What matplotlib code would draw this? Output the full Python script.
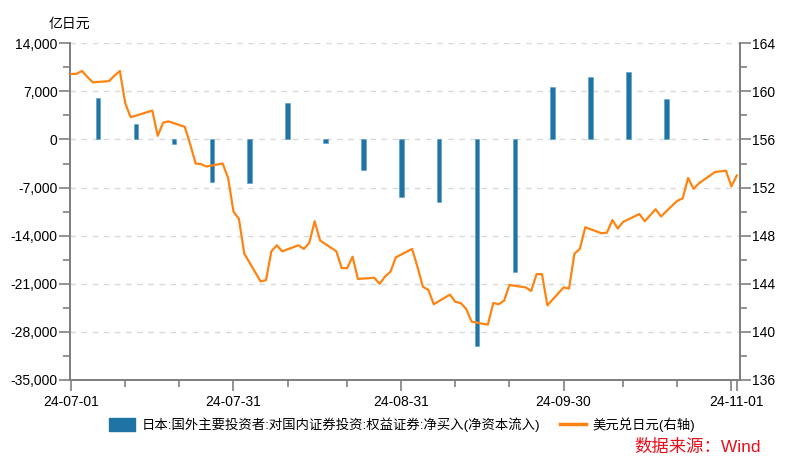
import matplotlib
matplotlib.use("Agg")
import matplotlib.pyplot as plt
from matplotlib.ticker import FuncFormatter, MultipleLocator
from matplotlib.patches import Patch
from matplotlib.lines import Line2D
import pandas as pd

plt.rcParams['font.family'] = ['Liberation Sans', 'Noto Sans CJK SC', 'DejaVu Sans']

# 周度：净买入（亿日元）
bar_dates = ['2024-07-06', '2024-07-13', '2024-07-20', '2024-07-27', '2024-08-03',
             '2024-08-10', '2024-08-17', '2024-08-24', '2024-08-31', '2024-09-07',
             '2024-09-14', '2024-09-21', '2024-09-28', '2024-10-05', '2024-10-12',
             '2024-10-19', '2024-10-26']
net_buy = [6050, 2300, -600, -6200, -6400, 5250, -500, -4400, -8400, -9100,
           -30100, -19300, 7650, 9100, 9800, 5850, 60]

# 日度：美元兑日元
fx_dates = ['2024-07-01', '2024-07-02', '2024-07-03', '2024-07-04', '2024-07-05',
            '2024-07-08', '2024-07-09', '2024-07-10', '2024-07-11', '2024-07-12',
            '2024-07-16', '2024-07-17', '2024-07-18', '2024-07-19', '2024-07-22',
            '2024-07-23', '2024-07-24', '2024-07-25', '2024-07-26', '2024-07-29',
            '2024-07-30', '2024-07-31', '2024-08-01', '2024-08-02', '2024-08-05',
            '2024-08-06', '2024-08-07', '2024-08-08', '2024-08-09', '2024-08-12',
            '2024-08-13', '2024-08-14', '2024-08-15', '2024-08-16', '2024-08-19',
            '2024-08-20', '2024-08-21', '2024-08-22', '2024-08-23', '2024-08-26',
            '2024-08-27', '2024-08-28', '2024-08-29', '2024-08-30', '2024-09-02',
            '2024-09-03', '2024-09-04', '2024-09-05', '2024-09-06', '2024-09-09',
            '2024-09-10', '2024-09-11', '2024-09-12', '2024-09-13', '2024-09-16',
            '2024-09-17', '2024-09-18', '2024-09-19', '2024-09-20', '2024-09-23',
            '2024-09-24', '2024-09-25', '2024-09-26', '2024-09-27', '2024-09-30',
            '2024-10-01', '2024-10-02', '2024-10-03', '2024-10-04', '2024-10-07',
            '2024-10-08', '2024-10-09', '2024-10-10', '2024-10-11', '2024-10-14',
            '2024-10-15', '2024-10-16', '2024-10-17', '2024-10-18', '2024-10-21',
            '2024-10-22', '2024-10-23', '2024-10-24', '2024-10-25', '2024-10-28',
            '2024-10-29', '2024-10-30', '2024-10-31', '2024-11-01']
usdjpy = [161.45, 161.45, 161.7, 161.2, 160.75,
          160.85, 161.3, 161.7, 159.0, 157.85,
          158.4, 156.3, 157.4, 157.5, 157.05,
          155.6, 154.0, 153.95, 153.75, 154.0,
          152.8, 150.0, 149.4, 146.5, 144.2,
          144.3, 146.7, 147.2, 146.7, 147.2,
          146.9, 147.4, 149.2, 147.6, 146.7,
          145.3, 145.3, 146.25, 144.4, 144.5,
          144.0, 144.6, 145.0, 146.2, 146.9,
          145.4, 143.75, 143.5, 142.3, 143.1,
          142.5, 142.4, 141.9, 140.85, 140.6,
          142.4, 142.3, 142.6, 143.9, 143.7,
          143.4, 144.8, 144.8, 142.2, 143.7,
          143.6, 146.5, 146.9, 148.7, 148.2,
          148.25, 149.3, 148.6, 149.15, 149.8,
          149.2, 149.7, 150.2, 149.6, 150.9,
          151.1, 152.8, 151.9, 152.35, 153.3,
          153.35, 153.4, 152.1, 153.0]

major_ticks = ['2024-07-01', '2024-07-31', '2024-08-31', '2024-09-30', '2024-10-31', '2024-11-01']
major_labels = ['24-07-01', '24-07-31', '24-08-31', '24-09-30', '', '24-11-01']
minor_ticks = ['2024-07-11', '2024-07-21', '2024-08-10', '2024-08-21', '2024-09-10',
               '2024-09-20', '2024-10-11', '2024-10-21']

bar_label = '日本:国外主要投资者:对国内证券投资:权益证券:净买入(净资本流入)'
line_label = '美元兑日元(右轴)'

blue = '#1f74a5'
orange = '#fd8412'
axis_grey = '#808080'

fig = plt.figure(figsize=(7.92, 4.70), dpi=100)
ax = fig.add_axes([0.0884, 0.1915, 0.8456, 0.7165])
ax2 = ax.twinx()

bd = pd.to_datetime(bar_dates)
fd = pd.to_datetime(fx_dates)

ax.bar(bd, net_buy, width=0.85, color=blue, edgecolor='#5b9cc5', linewidth=0.4, zorder=3)
ax2.plot(fd, usdjpy, color=orange, linewidth=1.6, zorder=4)

ax.set_ylim(-35000, 14000)
ax.yaxis.set_major_locator(MultipleLocator(7000))
ax.yaxis.set_minor_locator(MultipleLocator(3500))
ax.yaxis.set_major_formatter(FuncFormatter(lambda v, p: f'{v:,.0f}'))
ax2.set_ylim(136, 164)
ax2.yaxis.set_major_locator(MultipleLocator(4))
ax2.yaxis.set_minor_locator(MultipleLocator(2))

ax.set_xlim(pd.Timestamp('2024-07-01') - pd.Timedelta(hours=5),
            pd.Timestamp('2024-11-01') + pd.Timedelta(hours=13))
ax.set_xticks(pd.to_datetime(major_ticks))
ax.set_xticklabels(major_labels)
ax.set_xticks(pd.to_datetime(minor_ticks), minor=True)

ax.grid(axis='y', color='#d9d9d9', linestyle=(0, (4, 4)), linewidth=1, zorder=0)
ax.set_axisbelow(True)

for a in (ax, ax2):
    for s in a.spines.values():
        s.set_color(axis_grey)
        s.set_linewidth(1.4)
    a.spines['top'].set_visible(False)
    a.tick_params(which='major', length=8, width=1.2, color=axis_grey, labelsize=10, pad=1)
    a.tick_params(which='minor', length=5, width=1.2, color=axis_grey)
ax.tick_params(axis='x', which='major', pad=3)

fig.text(0.062, 0.949, '亿日元', fontsize=10, ha='left', va='center')

handles = [Patch(facecolor=blue, edgecolor=blue), Line2D([], [], color=orange, linewidth=2.5)]
fig.legend(handles, [bar_label, line_label], loc='center', bbox_to_anchor=(0.508, 0.096),
           ncol=2, frameon=False, fontsize=9.6, handlelength=1.95, handleheight=1.1,
           columnspacing=1.5, handletextpad=0.5)

fig.text(0.961, 0.049, '数据来源：Wind', fontsize=12.5, color='#e8101a', ha='right', va='center')

fig.savefig('out.png', dpi=100)
